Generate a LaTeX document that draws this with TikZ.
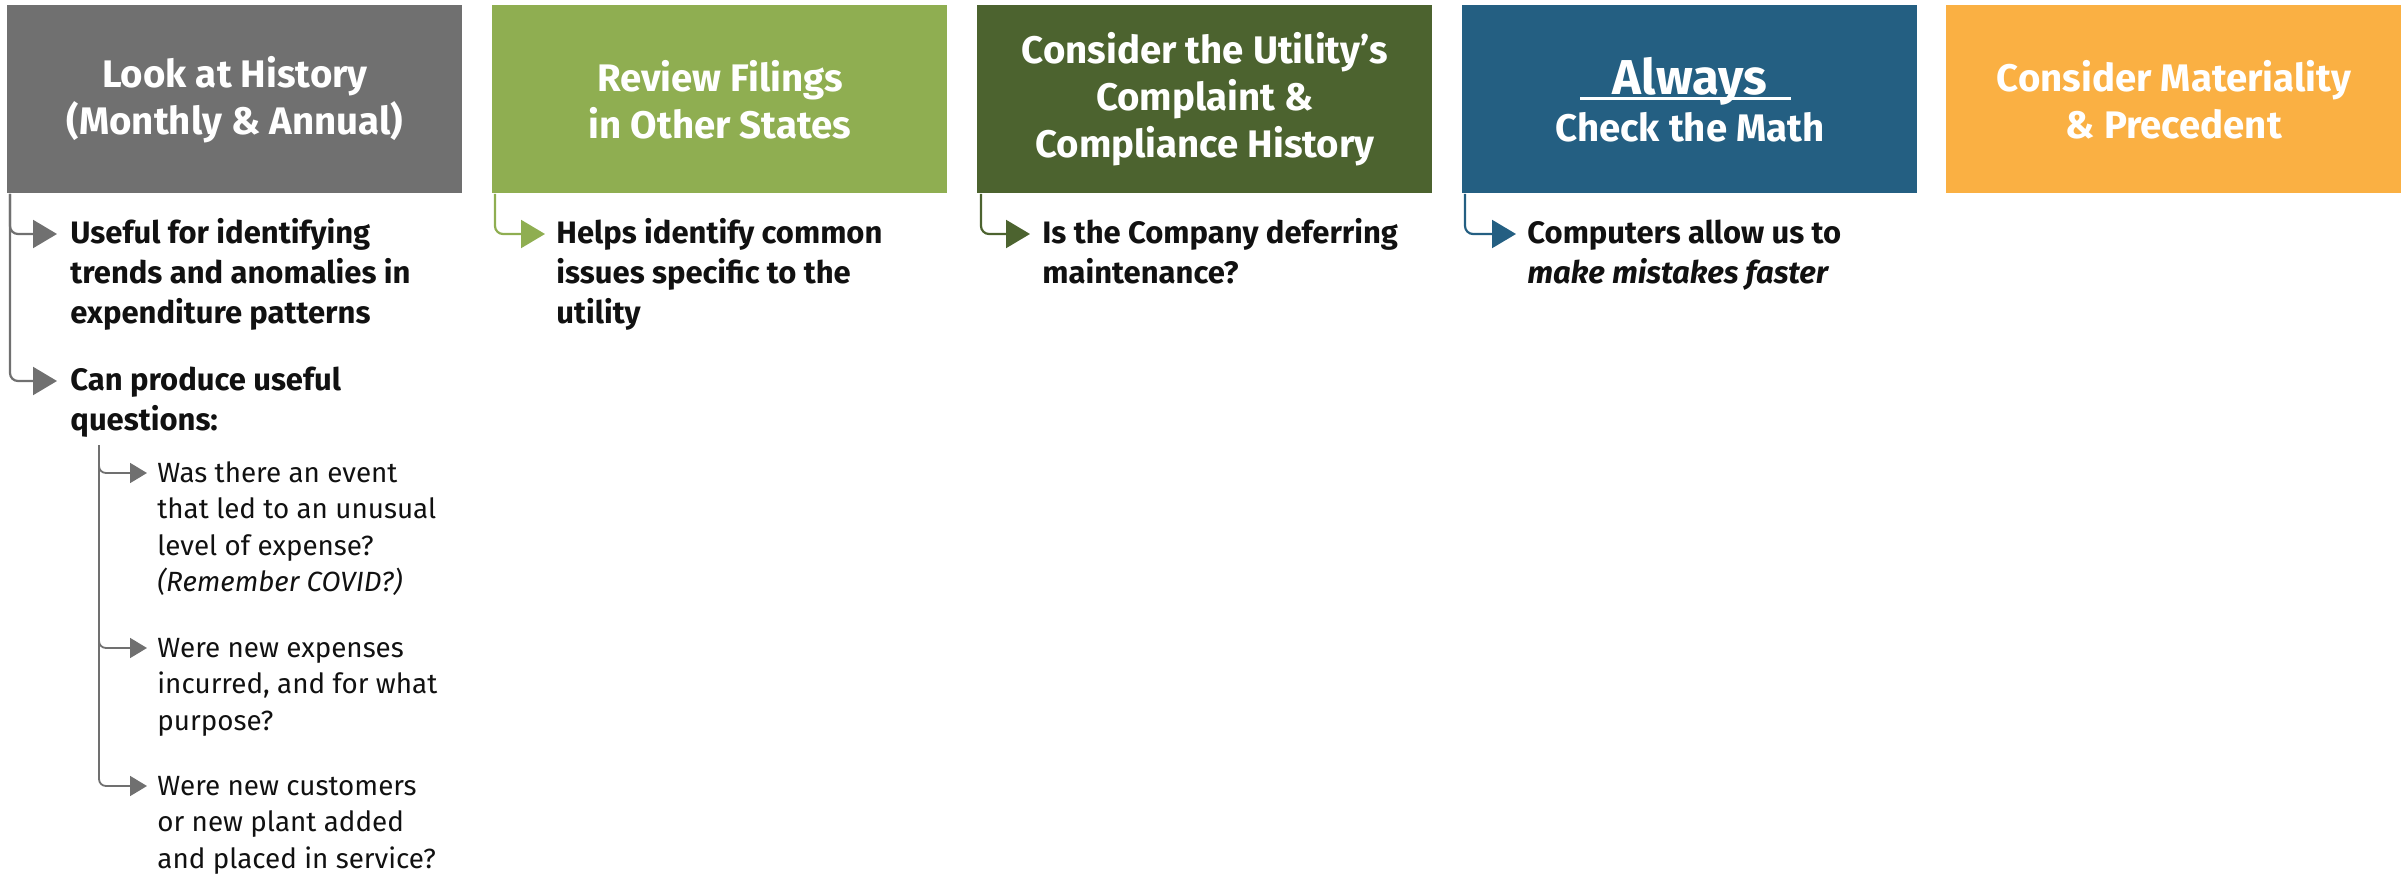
\documentclass[tikz,border=0pt]{standalone}
\usepackage{fontspec}
\setmainfont{Fira Sans}
\usetikzlibrary{arrows.meta}

\definecolor{histgray}{HTML}{707070}
\definecolor{filegreen}{HTML}{8FAE51}
\definecolor{darkolive}{HTML}{4C632F}
\definecolor{mathblue}{HTML}{245F82}
\definecolor{precorange}{HTML}{FAB043}
\definecolor{bodyink}{HTML}{111111}

\newcommand\ttlfnt{\fontsize{19.2}{23.5}\selectfont\bfseries}
\newcommand\itmfnt{\fontsize{15.5}{20}\selectfont\bfseries}
\newcommand\subfnt{\fontsize{13.9}{18.25}\selectfont}
% lines stacked with the first line's baseline as the node baseline
\newcommand\stacklines[1]{\begin{tabular}[t]{@{}l@{}}#1\end{tabular}}

\begin{document}
\begin{tikzpicture}[x=0.5pt,y=-0.5pt,
  box/.style={anchor=north west, minimum width=227.5pt, minimum height=94pt,
    inner sep=0pt, text=white, align=center, font=\ttlfnt},
  item/.style={anchor=base west, inner sep=0pt, text=bodyink, font=\itmfnt},
  subitem/.style={anchor=base west, inner sep=0pt, text=bodyink, font=\subfnt},
  conn/.style={line width=1.1pt, rounded corners=4pt, -{Triangle[length=12pt,width=14pt]}},
  subconn/.style={line width=0.9pt, rounded corners=3.5pt, -{Triangle[length=8.5pt,width=10pt]}},
]
\useasboundingbox (0,0) rectangle (2407,877);

% header boxes
\node[box, fill=histgray]    (b1) at (7,5)    {Look at History\\(Monthly \& Annual)};
\node[box, fill=filegreen]   (b2) at (492,5)  {Review Filings\\in Other States};
\node[box, fill=darkolive]   (b3) at (977,5)  {Consider the Utility’s\\Complaint \&\\Compliance History};
\node[box, fill=mathblue]    (b4) at (1462,5) {{\fontsize{24.5}{23.5}\selectfont Always}\\Check the Math};
\node[box, fill=precorange]  (b5) at (1946,5) {Consider Materiality\\\& Precedent};
\draw[white, line width=1.5pt] ([shift={(118,94)}]b4.north west) -- ++(211,0);

% bullet texts
\node[item] (t11) at (70,243)   {\stacklines{Useful for identifying\\trends and anomalies in\\expenditure patterns}};
\node[item] (t12) at (70,390)   {\stacklines{Can produce useful\\questions:}};
\node[subitem] (s1) at (157,482) {\stacklines{Was there an event\\that led to an unusual\\level of expense?\\\textit{(Remember COVID?)}}};
\node[subitem] (s2) at (157,657) {\stacklines{Were new expenses\\incurred, and for what\\purpose?}};
\node[subitem] (s3) at (157,795) {\stacklines{Were new customers\\or new plant added\\and placed in service?}};
\node[item] (t2) at (556,243)   {\stacklines{Helps identify common\\issues specific to the\\utility}};
\node[item] (t3) at (1042,243)  {\stacklines{Is the Company deferring\\maintenance?}};
\node[item] (t4) at (1527,243)  {\stacklines{Computers allow us to\\\textit{make mistakes faster}}};

% connector anchors
\coordinate (r1) at ([xshift=1.5pt]b1.south west);
\coordinate (r2) at ([xshift=1.5pt]b2.south west);
\coordinate (r3) at ([xshift=2pt]b3.south west);
\coordinate (r4) at ([xshift=1.5pt]b4.south west);
\coordinate (q)  at (99,445);

% connectors
\draw[conn, histgray]  (r1) |- ([xshift=-6.5pt,yshift=4.5pt]t11.base west);
\draw[conn, histgray]  (r1) |- ([xshift=-6.5pt,yshift=4.5pt]t12.base west);
\draw[conn, filegreen] (r2) |- ([xshift=-5.5pt,yshift=4.5pt]t2.base west);
\draw[conn, darkolive] (r3) |- ([xshift=-6pt,yshift=4.5pt]t3.base west);
\draw[conn, mathblue]  (r4) |- ([xshift=-5.5pt,yshift=4.5pt]t4.base west);
\draw[subconn, histgray] (q) |- ([xshift=-5pt,yshift=4.5pt]s1.base west);
\draw[subconn, histgray] (q) |- ([xshift=-5pt,yshift=4.5pt]s2.base west);
\draw[subconn, histgray] (q) |- ([xshift=-5pt,yshift=4.5pt]s3.base west);
\end{tikzpicture}
\end{document}
